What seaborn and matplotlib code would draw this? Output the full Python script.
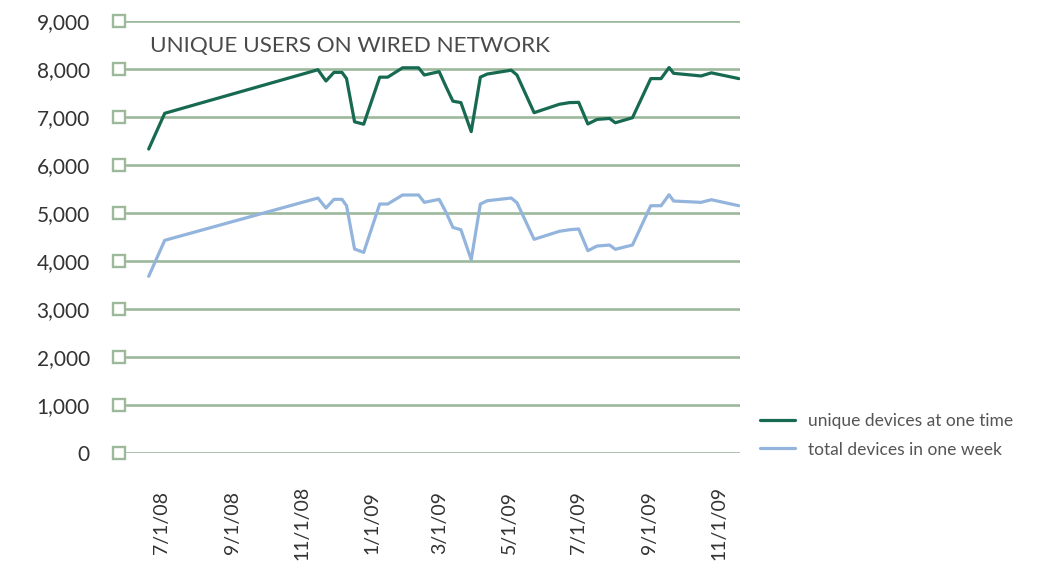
import pandas as pd
import seaborn as sns
import matplotlib.pyplot as plt

# weekly samples
dates = ["2008-06-20", "2008-07-04", "2008-11-15", "2008-11-22", "2008-11-29",
         "2008-12-06", "2008-12-10", "2008-12-17", "2008-12-25", "2009-01-08",
         "2009-01-15", "2009-01-28", "2009-02-11", "2009-02-16", "2009-03-01",
         "2009-03-07", "2009-03-13", "2009-03-20", "2009-03-29", "2009-04-06",
         "2009-04-12", "2009-05-03", "2009-05-08", "2009-05-23", "2009-06-14",
         "2009-06-23", "2009-07-01", "2009-07-09", "2009-07-17", "2009-07-28",
         "2009-08-02", "2009-08-17", "2009-09-02", "2009-09-11", "2009-09-18",
         "2009-09-22", "2009-10-16", "2009-10-25", "2009-11-18"]
unique_devices = [6333, 7077, 7985, 7750, 7930,
                  7930, 7800, 6900, 6850, 7830,
                  7830, 8025, 8025, 7875, 7945,
                  7630, 7330, 7300, 6695, 7830,
                  7895, 7975, 7875, 7090, 7265,
                  7300, 7305, 6855, 6950, 6970,
                  6880, 6985, 7800, 7800, 8030,
                  7910, 7855, 7920, 7800]
total_devices = [3681, 4431, 5312, 5104, 5285,
                 5285, 5152, 4250, 4180, 5187,
                 5187, 5375, 5375, 5222, 5285,
                 5015, 4700, 4652, 4027, 5187,
                 5256, 5312, 5215, 4452, 4618,
                 4652, 4667, 4215, 4312, 4333,
                 4244, 4333, 5152, 5152, 5381,
                 5250, 5222, 5277, 5152]

tick_dates = ["2008-07-01", "2008-09-01", "2008-11-01", "2009-01-01", "2009-03-01",
              "2009-05-01", "2009-07-01", "2009-09-01", "2009-11-01"]
tick_labels = ["7/1/08", "9/1/08", "11/1/08", "1/1/09", "3/1/09",
               "5/1/09", "7/1/09", "9/1/09", "11/1/09"]
y_ticks = [0, 1000, 2000, 3000, 4000, 5000, 6000, 7000, 8000, 9000]

green = "#176a51"
blue = "#93b4dc"
grid_col = "#9cb99c"

sns.set_style("white")
plt.rcParams['font.family'] = ['Lato', 'DejaVu Sans']

df = pd.DataFrame({"date": pd.to_datetime(dates),
                   "unique": unique_devices,
                   "total": total_devices})

fig = plt.figure(figsize=(10.49, 5.66), dpi=100)
ax = fig.add_axes([0.1134, 0.1996, 0.592, 0.7633])

sns.lineplot(data=df, x="date", y="unique", color=green, linewidth=2.3,
             label="unique devices at one time", ax=ax, zorder=4)
sns.lineplot(data=df, x="date", y="total", color=blue, linewidth=2.3,
             label="total devices in one week", ax=ax, zorder=4)

x0, x1 = pd.Timestamp("2008-05-25"), pd.Timestamp("2009-11-19")
ax.set_xlim(x0, x1)
ax.set_ylim(0, 9000)
ax.set_yticks(y_ticks)
ax.set_yticklabels([f"{v:,}" for v in y_ticks])
ax.set_xticks(pd.to_datetime(tick_dates))
ax.set_xticklabels(tick_labels, rotation=90, va="center", ha="center")

ax.yaxis.grid(True, color=grid_col, linewidth=1.9)
ax.xaxis.grid(False)
for s in ax.spines.values():
    s.set_visible(False)
ax.tick_params(axis="y", length=0, pad=21, labelsize=15, labelcolor="#333333")
ax.tick_params(axis="x", length=0, pad=50, labelsize=14, labelcolor="#333333")
ax.set_xlabel("")
ax.set_ylabel("")

# open square markers at the start of each gridline
ax.plot([x0] * len(y_ticks), y_ticks, "s", ms=8, mfc="white", mec=grid_col,
        mew=1.7, clip_on=False, zorder=5)

ax.text(0.05, 0.942, "UNIQUE USERS ON WIRED NETWORK", transform=ax.transAxes,
        fontsize=16.2, color="#4a4a4a", va="center", ha="left")

handles, labels = ax.get_legend_handles_labels()
ax.legend(handles[:2], labels[:2], loc="upper left", bbox_to_anchor=(0.7245, 0.2703),
          bbox_transform=fig.transFigure, frameon=False, fontsize=12.5,
          handlelength=2.0, handletextpad=0.75, labelspacing=0.72,
          borderpad=0, borderaxespad=0, labelcolor="#555555")

fig.savefig("out.png", dpi=100)
